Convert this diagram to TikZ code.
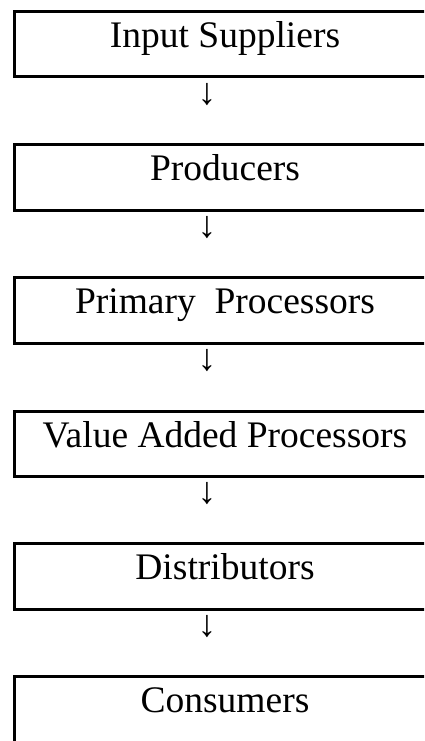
\documentclass[tikz,border=0pt]{standalone}
\usepackage{fontspec}
\setmainfont{Liberation Serif}
\begin{document}
\begin{tikzpicture}[x=1pt,y=-1pt,
  stagebox/.style={draw=black, line width=3pt, inner sep=0pt, anchor=north west,
    minimum width=422pt, text height=36pt, text depth=29.6pt,
    font=\fontsize{37.5}{42}\selectfont},
  downarrow/.style={inner sep=0pt, anchor=center, font=\fontsize{37.5}{42}\selectfont}]
\useasboundingbox (0,0) rectangle (424,741);
\fill[white] (0,0) rectangle (424,741);
\clip (0,0) rectangle (424,741);
\node[stagebox] (b1) at (12.5,9.7) {Input Suppliers};
\node[stagebox] (b2) at (12.5,143) {Producers};
\node[stagebox] (b3) at (12.5,276) {Primary\ \ Processors};
\node[stagebox] (b4) at (12.5,409.7) {Value Added Processors};
\node[stagebox] (b5) at (12.5,542) {Distributors};
\node[stagebox] (b6) at (12.5,675.3) {Consumers};
\node[downarrow] (a1) at (207,94.5) {↓};
\node[downarrow] (a2) at (207,228) {↓};
\node[downarrow] (a3) at (207,360.5) {↓};
\node[downarrow] (a4) at (207,493.5) {↓};
\node[downarrow] (a5) at (207,627) {↓};
\end{tikzpicture}
\end{document}
